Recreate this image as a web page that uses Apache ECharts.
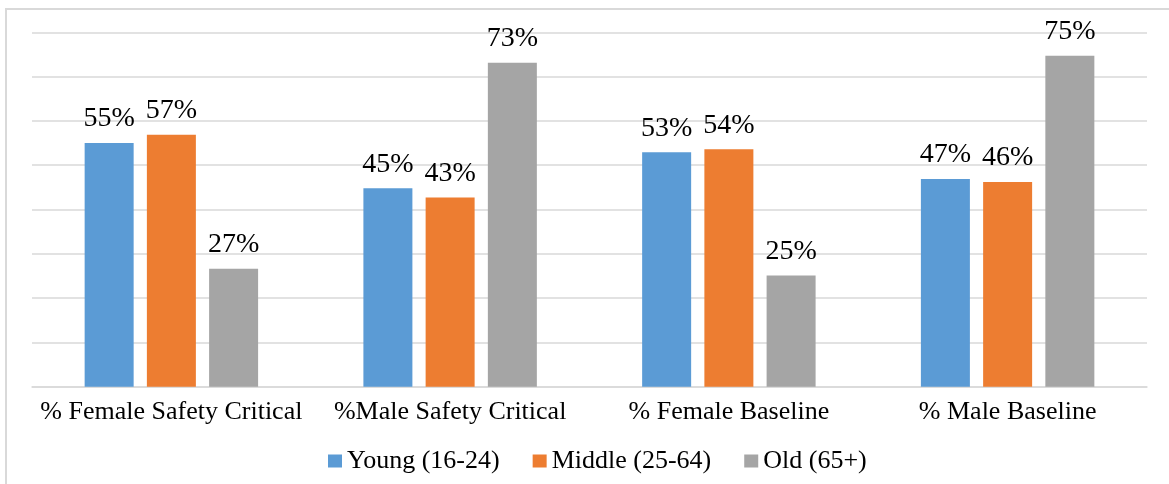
<!DOCTYPE html>
<html>
<head>
<meta charset="utf-8">
<script src="https://cdn.jsdelivr.net/npm/echarts@6/dist/echarts.min.js"></script>
<style>
html,body{margin:0;padding:0;background:#fff;}
#chart{width:1169px;height:484px;}
</style>
</head>
<body>
<div id="chart"></div>
<script>
var categories = ['% Female Safety Critical', '%Male Safety Critical', '% Female Baseline', '% Male Baseline'];
var seriesNames = ['Young (16-24)', 'Middle (25-64)', 'Old (65+)'];
var young = [55.0, 44.8, 52.9, 46.9];
var middle = [56.9, 42.7, 53.6, 46.2];
var old = [26.6, 73.1, 25.1, 74.7];
var colors = ['#5b9bd5', '#ed7d31', '#a5a5a5'];

var font = '"Liberation Serif", "Times New Roman", serif';
var chart = echarts.init(document.getElementById('chart'));

function mk(name, data, color) {
  return {
    name: name,
    type: 'bar',
    data: data,
    barWidth: 49,
    barGap: '27%',
    itemStyle: { color: color },
    label: {
      show: true,
      position: 'top',
      distance: 10,
      fontFamily: font,
      fontSize: 28,
      lineHeight: 28,
      color: '#000',
      formatter: function (p) { return Math.round(p.value) + '%'; }
    }
  };
}

chart.setOption({
  animation: false,
  color: colors,
  graphic: [{
    type: 'rect',
    shape: { x: 6, y: 9, width: 1300, height: 600 },
    style: { fill: 'none', stroke: '#d9d9d9', lineWidth: 2 },
    silent: true
  }],
  grid: { left: 32, right: 22, top: 32.3, bottom: 97.3 },
  legend: {
    left: 323,
    top: 443,
    itemWidth: 14,
    itemHeight: 13,
    itemGap: 33,
    icon: 'rect',
    textStyle: { fontFamily: font, fontSize: 26, lineHeight: 26, color: '#000' },
    data: seriesNames
  },
  xAxis: {
    type: 'category',
    data: categories,
    axisLine: { lineStyle: { color: '#d9d9d9', width: 1.5 } },
    axisTick: { show: false },
    axisLabel: { fontFamily: font, fontSize: 26, lineHeight: 26, color: '#000', margin: 12, interval: 0 }
  },
  yAxis: {
    type: 'value',
    min: 0,
    max: 80,
    interval: 10,
    axisLabel: { show: false },
    axisLine: { show: false },
    axisTick: { show: false },
    splitLine: { lineStyle: { color: '#d9d9d9', width: 1.5 } }
  },
  series: [
    mk(seriesNames[0], young, colors[0]),
    mk(seriesNames[1], middle, colors[1]),
    mk(seriesNames[2], old, colors[2])
  ]
});
</script>
</body>
</html>
